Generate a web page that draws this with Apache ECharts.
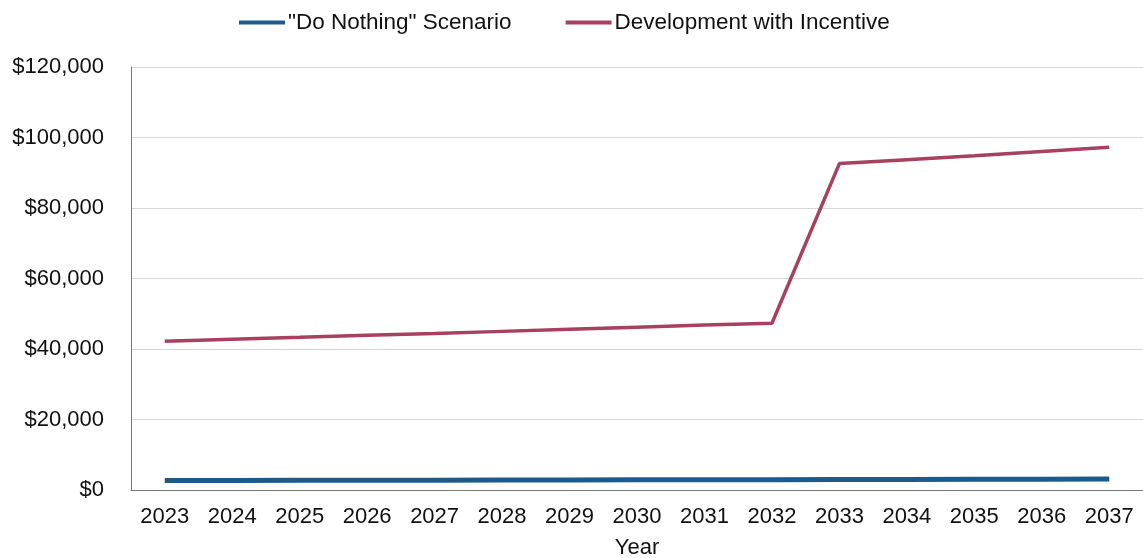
<!DOCTYPE html>
<html>
<head>
<meta charset="utf-8">
<script src="https://cdn.jsdelivr.net/npm/echarts@6/dist/echarts.min.js"></script>
<style>
  html, body { margin: 0; padding: 0; background: #fff; }
  #main { width: 1143px; height: 558px; }
</style>
</head>
<body>
<div id="main"></div>
<script>
var years = ['2023','2024','2025','2026','2027','2028','2029','2030','2031','2032','2033','2034','2035','2036','2037'];
var doNothing = [2700, 2720, 2750, 2780, 2800, 2830, 2860, 2880, 2910, 2940, 2970, 3000, 3030, 3060, 3100];
var withIncentive = [42200, 42800, 43300, 43900, 44400, 45000, 45600, 46200, 46800, 47300, 92600, 93700, 94800, 96000, 97200];
var seriesNames = ['"Do Nothing" Scenario', 'Development with Incentive'];

var chart = echarts.init(document.getElementById('main'));
var font = 'Liberation Sans, Arial, sans-serif';
chart.setOption({
  animation: false,
  legend: {
    top: 6,
    left: 234,
    itemWidth: 46,
    itemHeight: 4,
    itemGap: 54,
    icon: 'rect',
    textStyle: { fontFamily: font, fontSize: 22.5, color: '#111', padding: [0, 0, 0, -2] },
    data: seriesNames
  },
  grid: { left: 131, right: 0, top: 67, bottom: 68, containLabel: false, outerBoundsMode: 'none' },
  xAxis: {
    type: 'category',
    data: years,
    name: 'Year',
    nameLocation: 'middle',
    nameGap: 47,
    nameTextStyle: { fontFamily: font, fontSize: 22, color: '#111', verticalAlign: 'top' },
    axisLine: { lineStyle: { color: '#777', width: 1 } },
    axisTick: { show: false },
    axisLabel: { fontFamily: font, fontSize: 22, color: '#111', margin: 16 }
  },
  yAxis: {
    type: 'value',
    min: 0,
    max: 120000,
    interval: 20000,
    axisLine: { show: true, lineStyle: { color: '#777', width: 1 } },
    axisTick: { show: false },
    axisLabel: {
      fontFamily: font, fontSize: 22, color: '#111', margin: 27,
      formatter: function (v) { return '$' + v.toLocaleString('en-US'); }
    },
    splitLine: { lineStyle: { color: '#d6d6d6', width: 1 } }
  },
  series: [
    {
      name: seriesNames[0],
      type: 'line',
      data: doNothing,
      symbol: 'none',
      color: '#1c5a8c',
      lineStyle: { width: 5 }
    },
    {
      name: seriesNames[1],
      type: 'line',
      data: withIncentive,
      symbol: 'none',
      color: '#a8405f',
      lineStyle: { width: 3.5 }
    }
  ]
});
</script>
</body>
</html>
